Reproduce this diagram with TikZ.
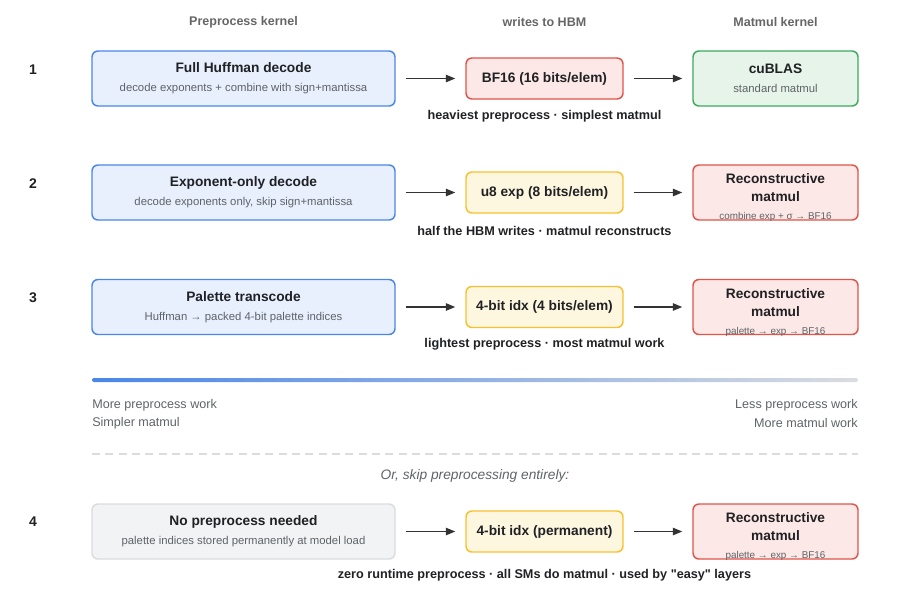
\documentclass[tikz,border=0pt]{standalone}
\usepackage{fontspec}
\setmainfont{Liberation Sans}[Ligatures=TeXOff]
\usetikzlibrary{arrows.meta}

\definecolor{ink}{HTML}{202124}
\definecolor{headgray}{HTML}{666666}
\definecolor{subgray}{HTML}{5F6368}
\definecolor{blueline}{HTML}{4A86E8}
\definecolor{bluefill}{HTML}{E8F0FE}
\definecolor{redline}{HTML}{E0544A}
\definecolor{redfill}{HTML}{FCE8E6}
\definecolor{greenline}{HTML}{3DAA5C}
\definecolor{greenfill}{HTML}{E6F4EA}
\definecolor{yellowline}{HTML}{F9C02E}
\definecolor{yellowfill}{HTML}{FEF7E0}
\definecolor{grayline}{HTML}{DADCE0}
\definecolor{grayfill}{HTML}{F1F3F4}
\definecolor{arrowc}{HTML}{333333}

\newcommand{\ttl}[1]{{\bfseries\fontsize{10.3}{14.25}\selectfont #1}}
\newcommand{\sub}[1]{{\color{subgray}\fontsize{8.5}{14.25}\selectfont #1}}
\newcommand{\tinysub}[1]{{\color{subgray}\fontsize{7.4}{13.5}\selectfont #1}}
\newcommand{\recon}{\rule{0pt}{15.5pt}\bfseries Reconstructive\\\bfseries matmul}

\tikzset{
  box/.style={draw, rounded corners=4.5pt, line width=1.1pt, inner sep=0pt, align=center, text=ink, font=\fontsize{10.3}{14.25}\selectfont},
  prebox/.style={box, minimum width=227.25pt, minimum height=41.25pt, draw=blueline, fill=bluefill},
  nopre/.style={box, minimum width=227.25pt, minimum height=41.25pt, draw=grayline, fill=grayfill},
  hbmred/.style={box, minimum width=117.75pt, minimum height=30.75pt, draw=redline, fill=redfill},
  hbmyel/.style={box, minimum width=117.75pt, minimum height=30.75pt, draw=yellowline, fill=yellowfill},
  mmgreen/.style={box, minimum width=123.75pt, minimum height=41.25pt, draw=greenline, fill=greenfill},
  mmred/.style={box, minimum width=123.75pt, minimum height=41.25pt, inner ysep=-2pt, draw=redline, fill=redfill, font=\fontsize{10.3}{13.5}\selectfont},
  flow/.style={-{Stealth[length=7pt,width=5.5pt,inset=0pt]}, line width=1pt, draw=arrowc, shorten <=7.5pt, shorten >=7.5pt},
  head/.style={font=\bfseries\fontsize{9.4}{11}\selectfont, text=headgray},
  rownum/.style={font=\bfseries\fontsize{10.5}{12}\selectfont, text=ink},
  caption/.style={font=\bfseries\fontsize{9.5}{11}\selectfont, text=ink},
  note/.style={font=\fontsize{9.45}{11}\selectfont, text=subgray, inner sep=0pt}
}

\begin{document}
\begin{tikzpicture}[x=0.75pt, y=-0.75pt]
  \useasboundingbox (0,0) rectangle (914,593);

  % column headers
  \node[head] (h1) at (243.5,22.5) {Preprocess kernel};
  \node[head] (h2) at (544.5,22.5) {writes to HBM};
  \node[head] (h3) at (775.5,22.5) {Matmul kernel};

  % row 1
  \node[rownum] (n1) at (33,70) {1};
  \node[prebox] (pre1) at (243.5,78.5) {\ttl{Full Huffman decode}\\\sub{decode exponents + combine with sign+mantissa}};
  \node[hbmred] (hbm1) at (544.5,78.5) {\ttl{BF16 (16 bits/elem)}};
  \node[mmgreen] (mm1) at (775.5,78.5) {\ttl{cuBLAS}\\\sub{standard matmul}};
  \draw[flow] (pre1) -- (hbm1);
  \draw[flow] (hbm1) -- (mm1);
  \node[caption] (c1) at (544.5,116.5) {heaviest preprocess · simplest matmul};

  % row 2
  \node[rownum] (n2) at (33,184) {2};
  \node[prebox] (pre2) at (243.5,192.5) {\ttl{Exponent-only decode}\\\sub{decode exponents only, skip sign+mantissa}};
  \node[hbmyel] (hbm2) at (544.5,192.5) {\ttl{u8 exp (8 bits/elem)}};
  \node[mmred] (mm2) at (775.5,192.5) {\recon\\\tinysub{combine exp + σ → BF16}};
  \draw[flow] (pre2) -- (hbm2);
  \draw[flow] (hbm2) -- (mm2);
  \node[caption] (c2) at (544.5,230.5) {half the HBM writes · matmul reconstructs};

  % row 3
  \node[rownum] (n3) at (33,298) {3};
  \node[prebox] (pre3) at (243.5,307) {\ttl{Palette transcode}\\\sub{Huffman → packed 4-bit palette indices}};
  \node[hbmyel] (hbm3) at (544.5,307) {\ttl{4-bit idx (4 bits/elem)}};
  \node[mmred] (mm3) at (775.5,307) {\recon\\\tinysub{palette → exp → BF16}};
  \draw[flow] (pre3) -- (hbm3);
  \draw[flow] (hbm3) -- (mm3);
  \node[caption] (c3) at (544.5,344.5) {lightest preprocess · most matmul work};

  % trade-off bar
  \shade[left color=blueline, right color=grayline, rounded corners=1.5pt] (92,378) rectangle (858,382);
  \node[note, anchor=west] (l1) at (92,405) {More preprocess work};
  \node[note, anchor=west] (l2) at (92,423) {Simpler matmul};
  \node[note, anchor=east] (r1) at (858,405) {Less preprocess work};
  \node[note, anchor=east] (r2) at (858,423) {More matmul work};

  % divider
  \draw[grayline, line width=1pt, dash pattern=on 6pt off 4pt] (92,454) -- (858,454);
  \node[note, font=\itshape\fontsize{10.3}{12}\selectfont] (skip) at (475,475.5) {Or, skip preprocessing entirely:};

  % row 4
  \node[rownum] (n4) at (33,522) {4};
  \node[nopre] (pre4) at (243.5,531.5) {\ttl{No preprocess needed}\\\sub{palette indices stored permanently at model load}};
  \node[hbmyel] (hbm4) at (544.5,531.5) {\ttl{4-bit idx (permanent)}};
  \node[mmred] (mm4) at (775.5,531.5) {\recon\\\tinysub{palette → exp → BF16}};
  \draw[flow] (pre4) -- (hbm4);
  \draw[flow] (hbm4) -- (mm4);
  \node[caption] (c4) at (544.5,575.5) {zero runtime preprocess · all SMs do matmul · used by "easy" layers};

\end{tikzpicture}
\end{document}
